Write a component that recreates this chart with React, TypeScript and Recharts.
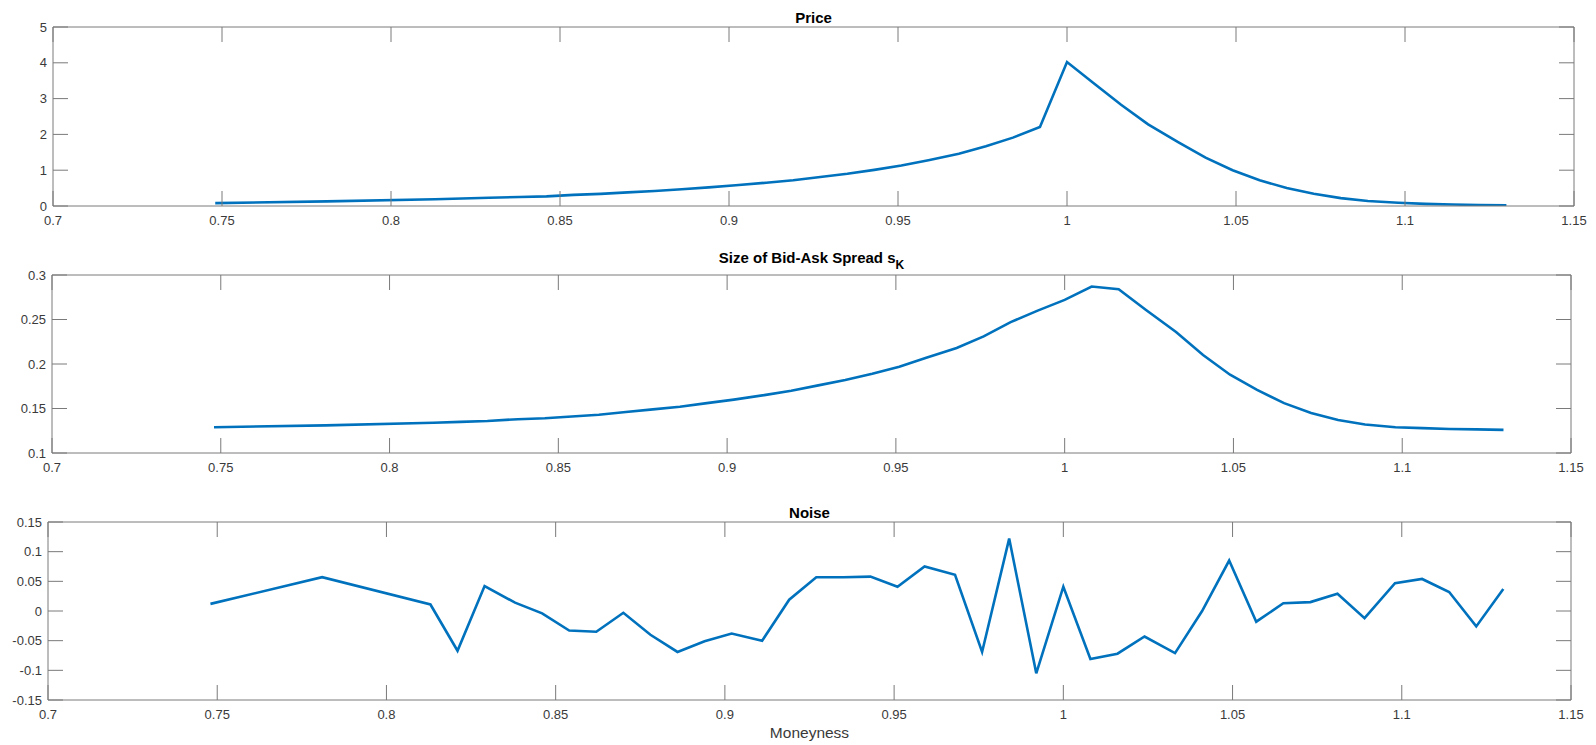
import { LineChart, Line, XAxis, YAxis } from "recharts";

// moneyness grid (K/S)
const moneyness = [
  0.748, 0.781, 0.813, 0.821, 0.829, 0.838, 0.846, 0.854, 0.862, 0.87, 0.878,
  0.886, 0.894, 0.902, 0.911, 0.919, 0.927, 0.935, 0.943, 0.951, 0.959, 0.968,
  0.976, 0.984, 0.992, 1.0, 1.008, 1.016, 1.024, 1.033, 1.041, 1.049, 1.057,
  1.065, 1.073, 1.081, 1.089, 1.098, 1.106, 1.114, 1.122, 1.13,
];

const price = [
  0.08, 0.13, 0.19, 0.21, 0.23, 0.25, 0.27, 0.31, 0.34, 0.38, 0.42, 0.47, 0.52,
  0.58, 0.65, 0.72, 0.81, 0.9, 1.01, 1.13, 1.28, 1.46, 1.67, 1.91, 2.21, 4.02,
  3.42, 2.83, 2.28, 1.78, 1.35, 1.0, 0.72, 0.5, 0.34, 0.22, 0.14, 0.09, 0.06,
  0.04, 0.03, 0.02,
];

const spread = [
  0.129, 0.131, 0.134, 0.135, 0.136, 0.138, 0.139, 0.141, 0.143, 0.146, 0.149,
  0.152, 0.156, 0.16, 0.165, 0.17, 0.176, 0.182, 0.189, 0.197, 0.207, 0.218,
  0.231, 0.247, 0.26, 0.272, 0.287, 0.284, 0.261, 0.236, 0.21, 0.188, 0.171,
  0.156, 0.145, 0.137, 0.132, 0.129, 0.128, 0.127, 0.1265, 0.126,
];

const noise = [
  0.012, 0.057, 0.011, -0.067, 0.042, 0.014, -0.004, -0.033, -0.035, -0.003,
  -0.04, -0.069, -0.051, -0.038, -0.05, 0.019, 0.057, 0.057, 0.058, 0.041,
  0.075, 0.061, -0.069, 0.122, -0.105, 0.041, -0.081, -0.072, -0.043, -0.071,
  0.0, 0.085, -0.018, 0.013, 0.015, 0.029, -0.012, 0.047, 0.054, 0.032,
  -0.026, 0.037,
];

const xTicks = [0.7, 0.75, 0.8, 0.85, 0.9, 0.95, 1, 1.05, 1.1, 1.15];
const priceTicks = [0, 1, 2, 3, 4, 5];
const spreadTicks = [0.1, 0.15, 0.2, 0.25, 0.3];
const noiseTicks = [-0.15, -0.1, -0.05, 0, 0.05, 0.1, 0.15];

const rows = moneyness.map((m, i) => ({
  m,
  price: price[i],
  spread: spread[i],
  noise: noise[i],
}));

const FONT = '"Liberation Sans", Arial, Helvetica, sans-serif';
const AXIS = "#7a7a7a";
const TEXT = "#3a3a3a";
const BLUE = "#0072BD";

// tick marks only, no label (tick={false} would drop the marks too)
const NoLabel = () => <g />;

type PanelProps = {
  top: number;
  height: number;
  mTop: number;
  left: number;
  right: number;
  xHeight: number;
  dataKey: string;
  yTicks: number[];
};

function Panel({ top, height, mTop, left, right, xHeight, dataKey, yTicks }: PanelProps) {
  const yDomain = [yTicks[0], yTicks[yTicks.length - 1]];
  const tickStyle = { fontSize: 13, fill: TEXT, fontFamily: FONT };
  return (
    <div style={{ position: "absolute", left: 0, top }}>
      <LineChart
        width={1596}
        height={height}
        data={rows}
        // top/right axes are 1px wide, so the margins leave that pixel out
        margin={{ top: mTop - 1, right: 1596 - right - 1, bottom: 0, left: 0 }}
      >
        <XAxis
          xAxisId="b"
          dataKey="m"
          type="number"
          domain={[0.7, 1.15]}
          ticks={xTicks}
          interval={0}
          height={xHeight}
          tickSize={-15}
          tickMargin={25}
          tick={tickStyle}
          axisLine={{ stroke: AXIS }}
          tickLine={{ stroke: AXIS }}
          allowDataOverflow
        />
        <XAxis
          xAxisId="t"
          dataKey="m"
          orientation="top"
          type="number"
          domain={[0.7, 1.15]}
          ticks={xTicks}
          interval={0}
          height={1}
          tickSize={-15}
          tick={NoLabel}
          axisLine={{ stroke: AXIS }}
          tickLine={{ stroke: AXIS }}
          allowDataOverflow
        />
        <YAxis
          yAxisId="l"
          type="number"
          domain={yDomain}
          ticks={yTicks}
          interval={0}
          width={left}
          tickSize={-15}
          tickMargin={21}
          tick={tickStyle}
          axisLine={{ stroke: AXIS }}
          tickLine={{ stroke: AXIS }}
          allowDataOverflow
        />
        <YAxis
          yAxisId="r"
          orientation="right"
          type="number"
          domain={yDomain}
          ticks={yTicks}
          interval={0}
          width={1}
          tickSize={-15}
          tick={NoLabel}
          axisLine={{ stroke: AXIS }}
          tickLine={{ stroke: AXIS }}
          allowDataOverflow
        />
        {/* invisible copy so the top/right frame axes get a scale */}
        <Line
          xAxisId="t"
          yAxisId="r"
          dataKey={dataKey}
          stroke="none"
          dot={false}
          activeDot={false}
          isAnimationActive={false}
        />
        <Line
          xAxisId="b"
          yAxisId="l"
          dataKey={dataKey}
          type="linear"
          stroke={BLUE}
          strokeWidth={2.6}
          dot={false}
          isAnimationActive={false}
        />
      </LineChart>
    </div>
  );
}

const titleStyle = {
  position: "absolute" as const,
  fontFamily: FONT,
  fontWeight: 700,
  fontSize: 15,
  lineHeight: "15px",
  color: "#000",
  textAlign: "center" as const,
};

export default function App() {
  return (
    <div
      style={{
        position: "absolute",
        left: 0,
        top: 0,
        width: 1596,
        height: 745,
        background: "#fff",
        fontFamily: FONT,
      }}
    >
      <Panel top={0} height={240} mTop={27} left={53} right={1574} xHeight={34} dataKey="price" yTicks={priceTicks} />
      <Panel top={240} height={250} mTop={35} left={52} right={1571} xHeight={37} dataKey="spread" yTicks={spreadTicks} />
      <Panel top={490} height={255} mTop={32} left={48} right={1571} xHeight={45} dataKey="noise" yTicks={noiseTicks} />

      <div style={{ ...titleStyle, left: 53, width: 1521, top: 10 }}>Price</div>
      <div style={{ ...titleStyle, left: 52, width: 1519, top: 250 }}>
        Size of Bid-Ask Spread s
        <span style={{ fontSize: 12, position: "relative", top: 6 }}>K</span>
      </div>
      <div style={{ ...titleStyle, left: 48, width: 1523, top: 505 }}>Noise</div>
      <div
        style={{
          position: "absolute",
          left: 48,
          width: 1523,
          top: 725,
          textAlign: "center",
          fontSize: 15.5,
          lineHeight: "15.5px",
          color: TEXT,
          fontFamily: FONT,
        }}
      >
        Moneyness
      </div>
    </div>
  );
}
